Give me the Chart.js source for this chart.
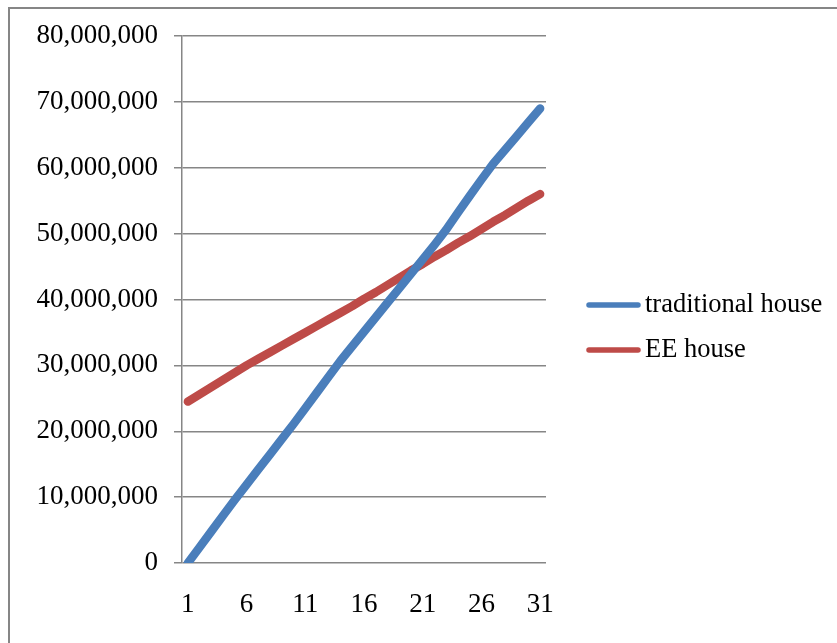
<!DOCTYPE html>
<html>
<head>
<meta charset="utf-8">
<script src="https://cdn.jsdelivr.net/npm/chart.js@4.4.1/dist/chart.umd.min.js"></script>
<style>
  html, body { margin: 0; padding: 0; background: #fff; }
  #wrap { width: 837px; height: 643px; position: relative; }
</style>
</head>
<body>
<div id="wrap"><canvas id="costChart"></canvas></div>
<script>
// years 1..31
const years = Array.from({ length: 31 }, (_, i) => String(i + 1));

// cumulative cost, traditional house
const traditionalHouse = [
  0, 2400000, 4800000, 7200000, 9600000, 11900000, 14200000, 16500000,
  18800000, 21100000, 23500000, 25900000, 28300000, 30700000, 32900000,
  35100000, 37300000, 39500000, 41700000, 43900000, 46100000, 48300000,
  50600000, 53200000, 55700000, 58200000, 60600000, 62700000, 64800000,
  66900000, 69000000
];

// cumulative cost, EE house
const eeHouse = [
  24500000, 25600000, 26700000, 27800000, 28900000, 30000000, 31000000,
  32000000, 33000000, 34000000, 35000000, 36000000, 37000000, 38000000,
  39000000, 40100000, 41100000, 42200000, 43300000, 44400000, 45400000,
  46500000, 47500000, 48600000, 49600000, 50700000, 51800000, 52800000,
  53900000, 55000000, 56000000
];

const yTicks = { min: 0, max: 80000000, step: 10000000 };

const FONT = "'Liberation Serif', 'Times New Roman', serif";
const GRID = "#868686";

// outer frame of the chart object
const framePlugin = {
  id: "frame",
  beforeDraw(chart) {
    const ctx = chart.ctx;
    ctx.save();
    ctx.strokeStyle = GRID;
    ctx.lineWidth = 2;
    ctx.beginPath();
    ctx.moveTo(9, chart.height);
    ctx.lineTo(9, 8);
    ctx.lineTo(chart.width, 8);
    ctx.stroke();
    ctx.restore();
  }
};

// line-sample legend on the right
const sideLegend = {
  id: "sideLegend",
  afterDraw(chart) {
    const ctx = chart.ctx;
    ctx.save();
    ctx.font = "26.5px " + FONT;
    ctx.textBaseline = "middle";
    chart.data.datasets.forEach((ds, i) => {
      const y = 305 + i * 45;
      ctx.strokeStyle = ds.borderColor;
      ctx.lineWidth = 5.5;
      ctx.lineCap = "round";
      ctx.beginPath();
      ctx.moveTo(589, y);
      ctx.lineTo(638, y);
      ctx.stroke();
      ctx.fillStyle = "#000";
      ctx.fillText(ds.label, 645, y);
    });
    ctx.restore();
  }
};

new Chart(document.getElementById("costChart"), {
  type: "line",
  data: {
    labels: years,
    datasets: [
      {
        label: "traditional house",
        data: traditionalHouse,
        borderColor: "#4A7EBB",
        backgroundColor: "#4A7EBB",
        borderWidth: 8.5,
        pointRadius: 0,
        tension: 0,
        borderCapStyle: "round",
        borderJoinStyle: "round"
      },
      {
        label: "EE house",
        data: eeHouse,
        borderColor: "#BE4B48",
        backgroundColor: "#BE4B48",
        borderWidth: 8.5,
        pointRadius: 0,
        tension: 0,
        borderCapStyle: "round",
        borderJoinStyle: "round"
      }
    ]
  },
  options: {
    responsive: true,
    maintainAspectRatio: false,
    animation: false,
    layout: { padding: { left: 0, top: 36, right: 291, bottom: 0 } },
    plugins: {
      legend: { display: false },
      tooltip: { enabled: false }
    },
    scales: {
      x: {
        offset: true,
        afterFit: (s) => { s.height = 80; },
        grid: { display: false, drawTicks: false },
        border: { display: false },
        ticks: {
          autoSkip: false,
          maxRotation: 0,
          padding: 26,
          color: "#000",
          font: { family: FONT, size: 27 },
          callback: (v, i) => (i % 5 === 0 ? years[i] : "")
        }
      },
      y: {
        min: yTicks.min,
        max: yTicks.max,
        afterFit: (s) => { s.width = 182; },
        grid: { color: GRID, lineWidth: 1.5, tickLength: 8 },
        border: { color: GRID, width: 1.5 },
        ticks: {
          stepSize: yTicks.step,
          padding: 16,
          color: "#000",
          font: { family: FONT, size: 27 },
          callback: (v) => v.toLocaleString("en-US")
        }
      }
    }
  },
  plugins: [framePlugin, sideLegend]
});
</script>
</body>
</html>
